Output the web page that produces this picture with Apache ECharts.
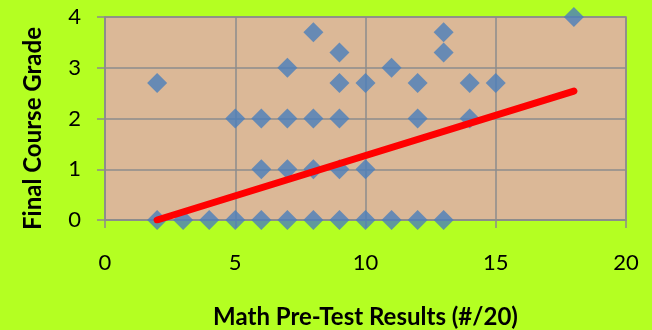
<!DOCTYPE html>
<html>
<head>
<meta charset="utf-8">
<script src="https://cdn.jsdelivr.net/npm/echarts@6/dist/echarts.min.js"></script>
<style>
  html, body { margin: 0; padding: 0; background: #B4FF22; }
  #chart { width: 652px; height: 330px; }
</style>
</head>
<body>
<div id="chart"></div>
<script>
// Pre-test score (out of 20) and final course grade for each student
const preTest = [2, 2, 3, 4, 5, 5, 6, 6, 6, 7, 7, 7, 7, 8, 8, 8, 8,
                 9, 9, 9, 9, 9, 10, 10, 10, 11, 11, 12, 12, 12, 13, 13, 13,
                 14, 14, 15, 18];
const finalGrade = [0, 2.7, 0, 0, 0, 2, 0, 1, 2, 0, 1, 2, 3, 0, 1, 2, 3.7,
                    0, 1, 2, 2.7, 3.3, 0, 1, 2.7, 0, 3, 0, 2, 2.7, 0, 3.3, 3.7,
                    2, 2.7, 2.7, 4];

// Linear trend line end points
const trendX = [2, 18];
const trendY = [0, 2.54];

const xTicks = [0, 5, 10, 15, 20];
const yTicks = [0, 1, 2, 3, 4];

const points = preTest.map((x, i) => [x, finalGrade[i]]);
const trend = trendX.map((x, i) => [x, trendY[i]]);

const gridGray = '#8C8C8C';
const font = 'Lato, "Open Sans", sans-serif';

const chart = echarts.init(document.getElementById('chart'));
chart.setOption({
  backgroundColor: '#B4FF22',
  animation: false,
  grid: {
    left: 105, right: 26, top: 17, bottom: 110,
    outerBoundsMode: 'none',
    show: true,
    backgroundColor: '#DBB897',
    borderColor: gridGray,
    borderWidth: 1.5
  },
  xAxis: {
    type: 'value',
    min: xTicks[0], max: xTicks[xTicks.length - 1], interval: 5,
    name: 'Math Pre-Test Results (#/20)',
    nameLocation: 'middle',
    nameGap: 85,
    nameTextStyle: { fontFamily: font, fontWeight: 'bold', fontSize: 24, color: '#000' },
    axisLine: { show: true, lineStyle: { color: gridGray, width: 1.5 } },
    axisTick: { show: true, length: 8, lineStyle: { color: gridGray, width: 1.5 } },
    axisLabel: { margin: 32, fontFamily: font, fontSize: 22, color: '#000' },
    splitLine: { show: true, lineStyle: { color: gridGray, width: 1.5 } }
  },
  yAxis: {
    type: 'value',
    min: yTicks[0], max: yTicks[yTicks.length - 1], interval: 1,
    name: 'Final Course Grade',
    nameLocation: 'middle',
    nameGap: 60,
    nameTextStyle: {
      fontFamily: font, fontWeight: 'bold', fontSize: 24, color: '#000',
      padding: [0, 20, 0, 0]
    },
    axisLine: { show: true, lineStyle: { color: gridGray, width: 1.5 } },
    axisTick: { show: true, length: 8, lineStyle: { color: gridGray, width: 1.5 } },
    axisLabel: { margin: 24, fontFamily: font, fontSize: 22, color: '#000' },
    splitLine: { show: true, lineStyle: { color: gridGray, width: 1.5 } }
  },
  series: [
    {
      type: 'scatter',
      data: points,
      symbol: 'diamond',
      symbolSize: [20, 20],
      itemStyle: { color: '#4A7EBB' },
      z: 3
    },
    {
      type: 'line',
      data: trend,
      showSymbol: false,
      lineStyle: { color: '#FF0000', width: 7, cap: 'round' },
      z: 4
    }
  ]
});
</script>
</body>
</html>
